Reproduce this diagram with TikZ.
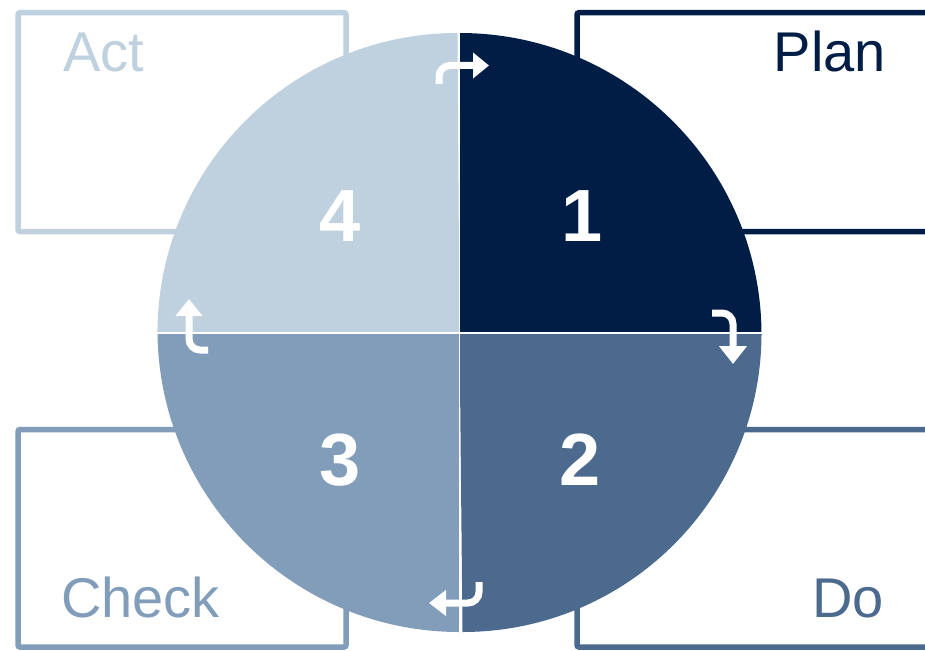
\documentclass[tikz,border=0pt]{standalone}
\usepackage{fontspec}
\setmainfont{Liberation Sans}
\usetikzlibrary{arrows.meta}
\definecolor{cPlan}{HTML}{001E45}
\definecolor{cDo}{HTML}{4B6A8D}
\definecolor{cCheck}{HTML}{819DBA}
\definecolor{cAct}{HTML}{BFD0DF}
\tikzset{
  boxline/.style={line width=5.5pt, rounded corners=2pt},
  lbl/.style={font=\fontsize{56}{60}\selectfont, inner sep=0pt},
  num/.style={font=\fontsize{74}{80}\selectfont\bfseries, text=white, inner sep=0pt},
  cyc/.style={draw=white, line width=7pt, rounded corners=11pt},
}
\begin{document}
\begin{tikzpicture}[x=1pt,y=-1pt]
\useasboundingbox (0,0) rectangle (925,650);
\clip (0,0) rectangle (925,650);
\fill[white] (0,0) rectangle (925,650);
% boxes
\draw[boxline, draw=cAct] (18,12.7) rectangle (346,231.5);
\draw[boxline, draw=cPlan] (577,12.7) rectangle (960,231.5);
\draw[boxline, draw=cCheck] (18,429.5) rectangle (346,647);
\draw[boxline, draw=cDo] (577,429.5) rectangle (960,647);
% labels
\node[lbl, text=cAct, anchor=base west] (act) at (63,72) {Act};
\node[lbl, text=cPlan, anchor=base east] (plan) at (886,72) {Plan};
\node[lbl, text=cCheck, anchor=base west] (check) at (61,617) {Check};
\node[lbl, text=cDo, anchor=base east] (do) at (884,617) {Do};
% circle quadrants
\coordinate (C) at (459.5,333);
\fill[cPlan] (C) -- ++(0pt,300pt) arc[start angle=90, end angle=0, radius=302pt] -- cycle;
\fill[cDo] (C) -- ++(302pt,0pt) arc[start angle=0, end angle=-90, radius=299pt] -- cycle;
\fill[cCheck] (C) -- ++(0pt,-299pt) arc[start angle=-90, end angle=-180, radius=302pt] -- cycle;
\fill[cAct] (C) -- ++(-302pt,0pt) arc[start angle=180, end angle=90, radius=300pt] -- cycle;
\draw[white, line width=1.5pt] (C) ++(-310pt,0pt) -- ++(620pt,0pt);
\draw[white, line width=1.5pt] (C) ++(0pt,-310pt) -- ++(0pt,620pt);
% numbers
\node[num] (n1) at (582,216) {1};
\node[num] (n2) at (580,460) {2};
\node[num] (n3) at (340,460) {3};
\node[num] (n4) at (340,216) {4};
% cycle arrows
\coordinate (a1s) at (439,84);  \coordinate (a1e) at (489,65.5);
\coordinate (a2s) at (712,313); \coordinate (a2e) at (733,364);
\coordinate (a3s) at (479,582); \coordinate (a3e) at (429,603);
\coordinate (a4s) at (208,350); \coordinate (a4e) at (189,299);
\draw[cyc, -{Triangle[length=16pt, width=25pt]}] (a1s) |- (a1e);
\draw[cyc, -{Triangle[length=18pt, width=27pt]}] (a2s) -| (a2e);
\draw[cyc, -{Triangle[length=17pt, width=25pt]}] (a3s) |- (a3e);
\draw[cyc, -{Triangle[length=17pt, width=26pt]}] (a4s) -| (a4e);
\end{tikzpicture}
\end{document}
